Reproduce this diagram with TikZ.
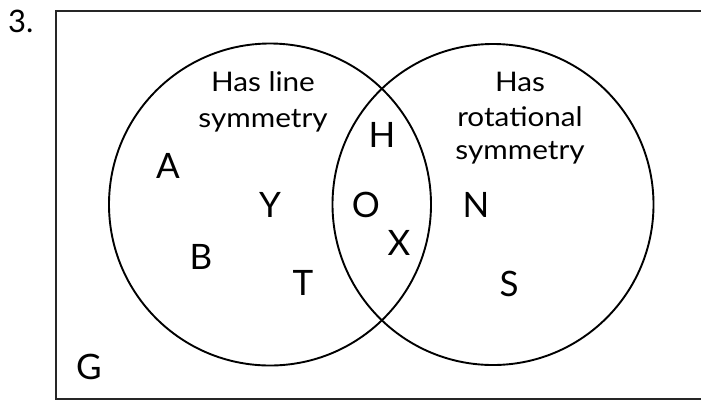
\documentclass[tikz,border=0pt]{standalone}
\usepackage{fontspec}
\setmainfont{Lato}
\newfontfamily\wlato[FakeStretch=1.1]{Lato}
\begin{document}
\begin{tikzpicture}[x=1pt,y=-1pt,
  frame/.style={line width=1.8pt, draw=black!85},
  ring/.style={line width=1.9pt, draw=black},
  lbl/.style={font=\wlato\fontsize{27}{32}\selectfont, inner sep=0pt, anchor=base, text=black},
  letter/.style={font=\fontsize{35}{40}\selectfont, inner sep=0pt, anchor=center, text=black}]
\useasboundingbox (0,0) rectangle (701,400);
% frame
\draw[frame] (702,11) -- (56,11) -- (56,399) -- (702,399);
% circles
\draw[ring] (270,204.5) circle[radius=161];
\draw[ring] (493,204.5) circle[radius=160.5];
% number
\node[font=\fontsize{31}{36}\selectfont, inner sep=0pt, anchor=base west, text=black] (num) at (8,32) {3.};
% labels
\node[lbl] (l1) at (263,91) {Has line};
\node[lbl] (l2) at (263,127) {symmetry};
\node[lbl] (r1) at (520,91) {Has};
\node[lbl] (r2) at (520,126) {rotational};
\node[lbl] (r3) at (520,159) {symmetry};
% letters
\node[letter] (A) at (168,166) {A};
\node[letter] (Y) at (270,205) {Y};
\node[letter] (B) at (201,257) {B};
\node[letter] (T) at (303,283) {T};
\node[letter] (G) at (89,367) {G};
\node[letter] (H) at (382,135) {H};
\node[letter] (O) at (366,205) {O};
\node[letter] (X) at (399,243) {X};
\node[letter] (N) at (476,205) {N};
\node[letter] (S) at (509,284) {S};
\end{tikzpicture}
\end{document}
